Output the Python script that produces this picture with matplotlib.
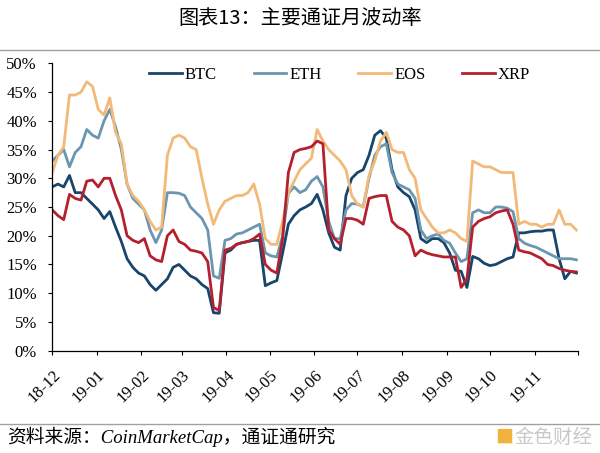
import numpy as np
import pandas as pd
import matplotlib
matplotlib.use("Agg")
import matplotlib.pyplot as plt
from matplotlib.ticker import PercentFormatter

plt.rcParams['font.family'] = ['Liberation Serif', 'Noto Sans CJK SC', 'DejaVu Sans']

# 数据（月波动率，%），每4天一个点
dates = pd.date_range("2018-12-01", periods=92, freq="4D")

btc = [28.5, 29, 28.5, 30.5, 27.5, 27.5, 26.5, 25.5, 24.5, 23,
       24.2, 21.5, 19, 16, 14.5, 13.5, 13, 11.5, 10.5, 11.5,
       12.5, 14.5, 15, 14, 13, 12.5, 11.5, 10.8, 6.6, 6.5,
       17, 17.5, 18.5, 18.8, 19, 19.2, 19.2, 11.3, 11.8, 12.2,
       17, 22, 23.5, 24.5, 25, 25.6, 27.2, 24.5, 20.5, 18,
       17.5, 27, 30, 31, 31.5, 34, 37.5, 38.3, 37, 31.5,
       28.5, 27.5, 26.8, 24.5, 19.5, 18.8, 19.5, 19.5, 18.8, 17,
       14, 13.8, 11, 16.4, 16, 15.2, 14.8, 15, 15.5, 16,
       16.3, 20.5, 20.5, 20.7, 20.8, 20.8, 21, 21, 16, 12.5,
       13.8, 13.5]

eth = [33, 34, 35, 32, 34.5, 35.5, 38.5, 37.5, 37, 40,
       42, 39, 35, 29, 26.5, 25.5, 24.5, 21, 18.8, 21,
       27.5, 27.5, 27.4, 27, 25, 24, 23, 21, 13, 12.6,
       19.2, 19.5, 20.3, 20.5, 21, 21.5, 22, 17, 16.5, 16.3,
       20, 27.4, 28.5, 27.5, 28, 29.5, 30.3, 28.5, 22.5, 19.5,
       19.5, 24.5, 25.6, 25.5, 25, 30, 34, 35.5, 36, 31,
       29, 28.5, 28, 26.5, 21, 19.5, 20, 20.3, 19.2, 18.7,
       17, 15.5, 16, 24, 24.5, 24, 24, 25, 25, 24.8,
       24.2, 19.5, 18.7, 18.3, 18, 17.5, 17, 16.5, 16, 16,
       16, 15.8]

eos = [31, 34, 35.5, 44.5, 44.5, 45, 46.8, 46, 42, 41,
       44, 38, 36, 29, 27, 26, 24.5, 22.5, 21, 21.5,
       34, 37, 37.5, 37, 35.5, 35, 30, 25.5, 22, 24.5,
       26, 26.5, 27, 27, 27.5, 29, 25.5, 19.5, 18.5, 18.5,
       22.5, 27.5, 29.5, 31.5, 32.5, 33.5, 38.5, 36.5, 35, 34,
       33, 31.5, 27, 25.5, 25, 30.5, 33, 36.5, 38, 35,
       34.5, 34.5, 31.5, 30, 24.5, 23, 21.5, 20.5, 20.5, 21,
       20.5, 19.5, 19, 33, 32.5, 32, 32, 31.5, 31, 31,
       31, 22, 22.5, 22, 22, 21.5, 22, 22, 24.5, 22,
       22, 21]

xrp = [24.5, 23.5, 22.8, 27.2, 26.5, 26.2, 29.5, 29.7, 28.5, 30,
       30, 27, 24.5, 20, 19.2, 18.8, 19.5, 16.5, 15.8, 15.5,
       20, 21, 19, 18.5, 17.5, 17.3, 17, 15.5, 7.5, 7,
       17.5, 17.8, 18.5, 18.8, 19, 19.5, 20.3, 15, 14, 13.5,
       19.5, 31, 34.5, 35, 35.2, 35.5, 36.5, 36, 21, 19.5,
       18.5, 23, 23, 22.7, 22, 26.5, 26.8, 27, 27, 22.5,
       21.5, 21, 20, 16.5, 17.5, 17, 16.7, 16.5, 16.3, 16.3,
       16.3, 11, 12.5, 21.5, 22.5, 23, 23.3, 24, 24.3, 24.5,
       22, 17.5, 17.2, 17, 16.5, 16, 15, 14.8, 14.3, 14,
       13.8, 13.7]

names = ["BTC", "ETH", "EOS", "XRP"]
colors = ["#17456b", "#6b96b0", "#f2b979", "#b5202e"]
series = [btc, eth, eos, xrp]

fig = plt.figure(figsize=(6, 4.53), dpi=100)
ax = fig.add_axes([0.087, 0.226, 0.876, 0.634])

for name, s, c in zip(names, series, colors):
    ax.plot(dates, s, color=c, lw=2, label=name)

ax.set_ylim(0, 50)
ax.set_yticks(np.arange(0, 51, 5))
ax.yaxis.set_major_formatter(PercentFormatter(decimals=0))
ax.set_xlim(pd.Timestamp("2018-12-01"), pd.Timestamp("2019-12-01"))
ticks = pd.date_range("2018-12-01", "2019-12-01", freq="MS")
ax.set_xticks(ticks)
ax.set_xticklabels([t.strftime("%y-%m") for t in ticks[:-1]] + [""],
                   rotation=45, ha="right", rotation_mode="anchor")
ax.tick_params(axis="both", direction="out", length=3, width=0.8, labelsize=12, colors="black")
ax.tick_params(axis="x", pad=9)
ax.tick_params(axis="y", pad=8)
for sp in ["top", "right"]:
    ax.spines[sp].set_visible(False)
for sp in ["left", "bottom"]:
    ax.spines[sp].set_color("black")
    ax.spines[sp].set_linewidth(0.9)

ax.legend(loc="upper center", bbox_to_anchor=(0.547, 1.04), ncol=4, frameon=False,
          fontsize=12, handlelength=1.95, handletextpad=0.2, columnspacing=2.2)

# 标题和来源
fig.text(0.5, 0.96, "图表13：主要通证月波动率", ha="center", va="center", fontsize=14.5,
         family=["Noto Sans CJK SC", "DejaVu Sans"])
fig.add_artist(plt.Line2D([0, 1], [0.889, 0.889], color="#a0a0a0", lw=1))
fig.add_artist(plt.Line2D([0, 1], [0.064, 0.064], color="#a0a0a0", lw=1))
fig.text(0.012, 0.035, "资料来源：CoinMarketCap，通证通研究", ha="left", va="center",
         fontsize=13.5, style="italic")
fig.text(0.84, 0.035, "■", ha="center", va="center", fontsize=13, color="#f0b43c",
         family=["Noto Sans CJK SC", "DejaVu Sans"])
fig.text(0.988, 0.035, "金色财经", ha="right", va="center", fontsize=14, color="#c8c8c8",
         family=["Noto Sans CJK SC", "DejaVu Sans"])

fig.savefig("out.png", dpi=100)
